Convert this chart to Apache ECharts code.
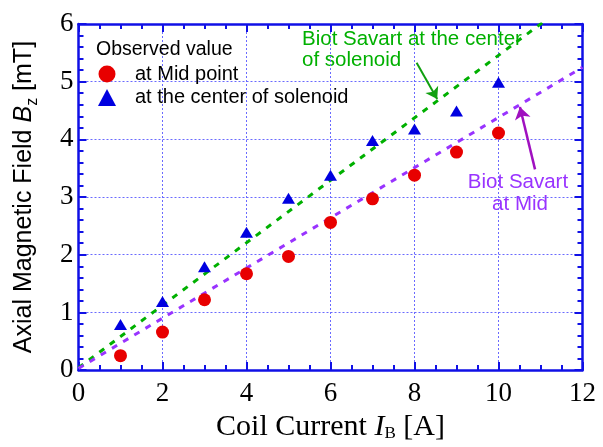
<!DOCTYPE html>
<html>
<head>
<meta charset="utf-8">
<script src="https://cdn.jsdelivr.net/npm/echarts@6/dist/echarts.min.js"></script>
<style>
  html, body { margin: 0; padding: 0; background: #ffffff; }
  #chart { width: 603px; height: 447px; }
</style>
</head>
<body>
<div id="chart"></div>
<script>
// Coil current (A) at which the field was measured
const currents = [1, 2, 3, 4, 5, 6, 7, 8, 9, 10];
// Measured axial field Bz (mT) at the mid point
const midValues = [0.25, 0.66, 1.22, 1.67, 1.97, 2.56, 2.97, 3.38, 3.78, 4.11];
// Measured axial field Bz (mT) at the centre of the solenoid
const centerValues = [0.79, 1.19, 1.79, 2.39, 2.98, 3.38, 3.98, 4.18, 4.49, 4.99];
// Biot-Savart predictions, straight lines through the end points [I, Bz]
const biotCenterLine = [[0, 0.04], [12, 6.54]];
const biotMidLine = [[0, 0.03], [12, 5.25]];
// Axis ranges and tick steps
const xRange = [0, 12], xStep = 2;
const yRange = [0, 6], yStep = 1;
// Annotation arrows, [from, to] in data coordinates
const arrowCenter = [[8.05, 5.33], [8.54, 4.70]];
const arrowMid = [[10.87, 3.48], [10.51, 4.56]];

const AXIS_BLUE = '#1010e6';
const GRID_BLUE = '#6a6aff';
const GREEN = '#00b000';
const PURPLE = '#9933ff';
const SANS = '"Liberation Sans", Arial, sans-serif';
const SERIF = '"Liberation Serif", "Times New Roman", serif';

const chart = echarts.init(document.getElementById('chart'), null, { renderer: 'canvas' });

function frameAxis(pos, range, step, minorSplit, withLabels, extra) {
  return Object.assign({
    type: 'value',
    position: pos,
    min: range[0],
    max: range[1],
    interval: step,
    axisLine: { show: true, onZero: false, lineStyle: { color: AXIS_BLUE, width: 2.5 } },
    axisTick: { show: true, inside: true, length: 8, lineStyle: { color: AXIS_BLUE, width: 2 } },
    minorTick: { show: true, splitNumber: minorSplit, length: 5, lineStyle: { color: AXIS_BLUE, width: 2 } },
    splitLine: { show: false },
    axisLabel: { show: withLabels }
  }, extra || {});
}

const option = {
  animation: false,
  backgroundColor: '#ffffff',
  grid: { left: 78.5, right: 20.5, top: 24, bottom: 71.3, containLabel: false },
  title: {
    text: 'Observed value',
    left: 91,
    top: 35,
    textStyle: { fontFamily: SANS, fontSize: 19.5, fontWeight: 'normal', color: '#000000' }
  },
  legend: {
    orient: 'vertical',
    left: 93,
    top: 59,
    itemWidth: 18,
    itemHeight: 17,
    itemGap: 3.5,
    textStyle: { fontFamily: SANS, fontSize: 20, color: '#000000', lineHeight: 18, padding: [0, 0, 0, 14] },
    data: [
      { name: 'at Mid point', icon: 'circle' },
      { name: 'at the center of solenoid', icon: 'triangle' }
    ]
  },
  xAxis: [
    frameAxis('bottom', xRange, xStep, 4, true, {
      axisLabel: { show: true, fontFamily: SERIF, fontSize: 27, color: '#000000', margin: 10 },
      splitLine: { show: true, lineStyle: { color: GRID_BLUE, width: 1, type: [2, 2] } },
      name: 'Coil Current {i|I}{sub|B} [A]',
      nameLocation: 'middle',
      nameGap: 40,
      nameTextStyle: {
        fontFamily: SERIF, fontSize: 30, color: '#000000',
        rich: {
          i: { fontFamily: SERIF, fontSize: 30, fontStyle: 'italic', color: '#000000' },
          sub: { fontFamily: SERIF, fontSize: 17, color: '#000000', lineHeight: 8, verticalAlign: 'bottom' }
        }
      }
    }),
    frameAxis('top', xRange, xStep, 4, false)
  ],
  yAxis: [
    frameAxis('left', yRange, yStep, 5, true, {
      axisLabel: { show: true, fontFamily: SERIF, fontSize: 27, color: '#000000', margin: 5 },
      splitLine: { show: true, lineStyle: { color: GRID_BLUE, width: 1, type: [2, 2] } },
      name: 'Axial Magnetic Field {i|B}{sub|z} [mT]',
      nameLocation: 'middle',
      nameGap: 38,
      nameTextStyle: {
        fontFamily: SANS, fontSize: 25, lineHeight: 32, color: '#000000',
        rich: {
          i: { fontFamily: SANS, fontSize: 25, lineHeight: 32, fontStyle: 'italic', color: '#000000' },
          sub: { fontFamily: SANS, fontSize: 16, color: '#000000', lineHeight: 2, verticalAlign: 'bottom' }
        }
      }
    }),
    frameAxis('right', yRange, yStep, 5, false)
  ],
  graphic: [
    {
      type: 'text',
      left: 302,
      top: 29,
      style: {
        text: 'Biot Savart at the center\nof solenoid',
        font: '20.5px ' + SANS,
        fill: GREEN,
        lineHeight: 21
      }
    },
    {
      type: 'text',
      x: 518,
      y: 172,
      style: {
        text: 'Biot Savart',
        font: '20.5px ' + SANS,
        fill: PURPLE,
        align: 'center',
        textAlign: 'center'
      }
    },
    {
      type: 'text',
      x: 520,
      y: 193.5,
      style: {
        text: 'at Mid',
        font: '20.5px ' + SANS,
        fill: PURPLE,
        align: 'center',
        textAlign: 'center'
      }
    }
  ],
  series: [
    {
      name: 'Biot Savart center',
      type: 'line',
      data: biotCenterLine,
      showSymbol: false,
      clip: true,
      silent: true,
      z: 2,
      lineStyle: { color: GREEN, width: 3, type: [6, 7] },
      markLine: {
        silent: true,
        symbol: ['none', 'arrow'],
        symbolSize: 11,
        label: { show: false },
        lineStyle: { color: '#10a010', width: 2, type: 'solid' },
        data: [[{ coord: arrowCenter[0] }, { coord: arrowCenter[1] }]]
      }
    },
    {
      name: 'Biot Savart mid',
      type: 'line',
      data: biotMidLine,
      showSymbol: false,
      clip: true,
      silent: true,
      z: 2,
      lineStyle: { color: PURPLE, width: 3, type: [6, 7] },
      markLine: {
        silent: true,
        symbol: ['none', 'arrow'],
        symbolSize: 12,
        label: { show: false },
        lineStyle: { color: '#a010c0', width: 2.5, type: 'solid' },
        data: [[{ coord: arrowMid[0] }, { coord: arrowMid[1] }]]
      }
    },
    {
      name: 'at Mid point',
      type: 'scatter',
      symbol: 'circle',
      symbolSize: 13,
      z: 3,
      itemStyle: { color: '#e80000', opacity: 1 },
      data: currents.map((c, i) => [c, midValues[i]])
    },
    {
      name: 'at the center of solenoid',
      type: 'scatter',
      symbol: 'triangle',
      symbolSize: [13, 11],
      z: 3,
      itemStyle: { color: '#0000e0', opacity: 1 },
      data: currents.map((c, i) => [c, centerValues[i]])
    }
  ]
};

chart.setOption(option);
</script>
</body>
</html>
